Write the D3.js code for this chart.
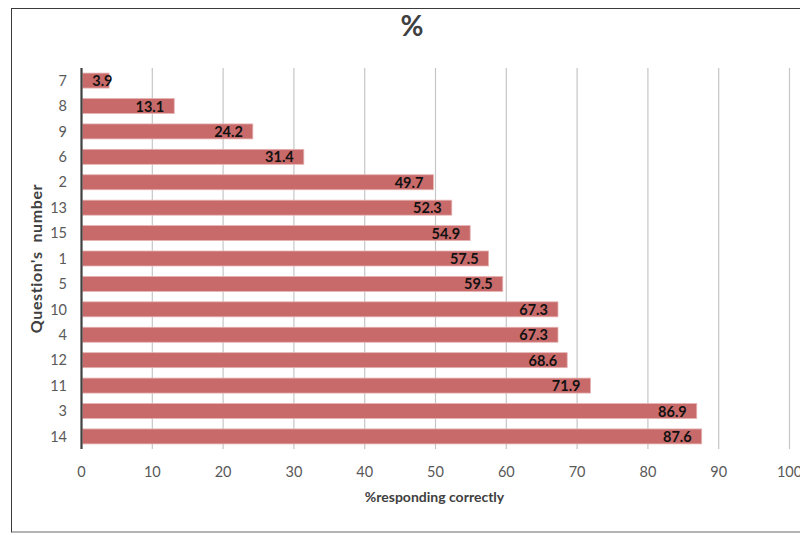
<!DOCTYPE html>
<html>
<head>
<meta charset="utf-8">
<script src="https://cdn.jsdelivr.net/npm/d3@7"></script>
<style>
  html, body { margin: 0; padding: 0; background: #fff; }
  svg { display: block; font-family: Lato, "Open Sans", sans-serif; }
</style>
</head>
<body>
<svg id="chart" width="800" height="535"></svg>
<script>
// Question numbers, top to bottom, and their share of correct answers
const questions = ["7", "8", "9", "6", "2", "13", "15", "1", "5", "10", "4", "12", "11", "3", "14"];
const percentCorrect = [3.9, 13.1, 24.2, 31.4, 49.7, 52.3, 54.9, 57.5, 59.5, 67.3, 67.3, 68.6, 71.9, 86.9, 87.6];
const xTicks = [0, 10, 20, 30, 40, 50, 60, 70, 80, 90, 100];

const rows = questions.map((q, i) => ({ q, v: percentCorrect[i] }));

const svg = d3.select("#chart");

// Chart frame
svg.append("rect")
  .attr("x", 11.5).attr("y", 8.5)
  .attr("width", 800).attr("height", 523.5)
  .attr("fill", "#fff")
  .attr("stroke", "#3a3a3a").attr("stroke-width", 1);
svg.append("line")
  .attr("x1", 12).attr("x2", 800).attr("y1", 532).attr("y2", 532)
  .attr("stroke", "#bdbdbd").attr("stroke-width", 1.5);

const plot = { left: 81.5, right: 789.5, top: 68, bottom: 449 };

const x = d3.scaleLinear().domain([0, 100]).range([plot.left, plot.right]);
const y = d3.scaleBand().domain(questions).range([plot.top, plot.bottom]).paddingInner(0.41).paddingOuter(0.2);

// Vertical gridlines
svg.append("g")
  .selectAll("line")
  .data(xTicks.filter(d => d > 0))
  .join("line")
  .attr("x1", d => x(d)).attr("x2", d => x(d))
  .attr("y1", plot.top).attr("y2", plot.bottom)
  .attr("stroke", "#c6c6c6").attr("stroke-width", 1.2);

// Bars
svg.append("g")
  .selectAll("rect")
  .data(rows)
  .join("rect")
  .attr("x", x(0) + 1)
  .attr("y", d => y(d.q))
  .attr("width", d => x(d.v) - x(0) - 1)
  .attr("height", y.bandwidth())
  .attr("fill", "#c86a6a")
  .attr("stroke", "#e6b3b3").attr("stroke-width", 0.8);

// Value labels at the inner end of each bar
svg.append("g")
  .selectAll("text")
  .data(rows)
  .join("text")
  .attr("x", d => Math.max(x(d.v) - 10, x(0) + 31))
  .attr("y", d => y(d.q) + y.bandwidth() / 2)
  .attr("dy", "0.38em")
  .attr("text-anchor", "end")
  .attr("font-size", 14.5)
  .attr("font-weight", "bold")
  .attr("fill", "#111")
  .text(d => d.v.toFixed(1));

// Category axis line
svg.append("line")
  .attr("x1", x(0)).attr("x2", x(0))
  .attr("y1", plot.top).attr("y2", plot.bottom)
  .attr("stroke", "#404040").attr("stroke-width", 2.2);

// Category tick labels
svg.append("g")
  .selectAll("text")
  .data(questions)
  .join("text")
  .attr("x", 67)
  .attr("y", d => y(d) + y.bandwidth() / 2)
  .attr("dy", "0.36em")
  .attr("text-anchor", "end")
  .attr("font-size", 14.5)
  .attr("fill", "#595959")
  .text(d => d);

// Value axis tick labels
svg.append("g")
  .selectAll("text")
  .data(xTicks)
  .join("text")
  .attr("x", d => x(d))
  .attr("y", 472)
  .attr("dy", "0.36em")
  .attr("text-anchor", "middle")
  .attr("font-size", 14.5)
  .attr("fill", "#595959")
  .text(d => d);

// Axis titles
svg.append("text")
  .attr("x", (plot.left + plot.right) / 2 - 1)
  .attr("y", 497)
  .attr("dy", "0.36em")
  .attr("text-anchor", "middle")
  .attr("font-size", 14)
  .attr("font-weight", "bold")
  .attr("fill", "#404040")
  .text("%responding correctly");

svg.append("text")
  .attr("transform", `translate(36, ${(plot.top + plot.bottom) / 2}) rotate(-90)`)
  .attr("dy", "0.36em")
  .attr("text-anchor", "middle")
  .attr("font-size", 16)
  .attr("font-weight", "bold")
  .attr("letter-spacing", 0.6)
  .attr("fill", "#404040")
  .attr("xml:space", "preserve")
  .style("white-space", "pre")
  .text("Question's  number");

// Chart title
svg.append("text")
  .attr("x", 412)
  .attr("y", 26)
  .attr("dy", "0.36em")
  .attr("text-anchor", "middle")
  .attr("font-size", 28)
  .attr("font-weight", "bold")
  .attr("fill", "#404040")
  .text("%");
</script>
</body>
</html>
